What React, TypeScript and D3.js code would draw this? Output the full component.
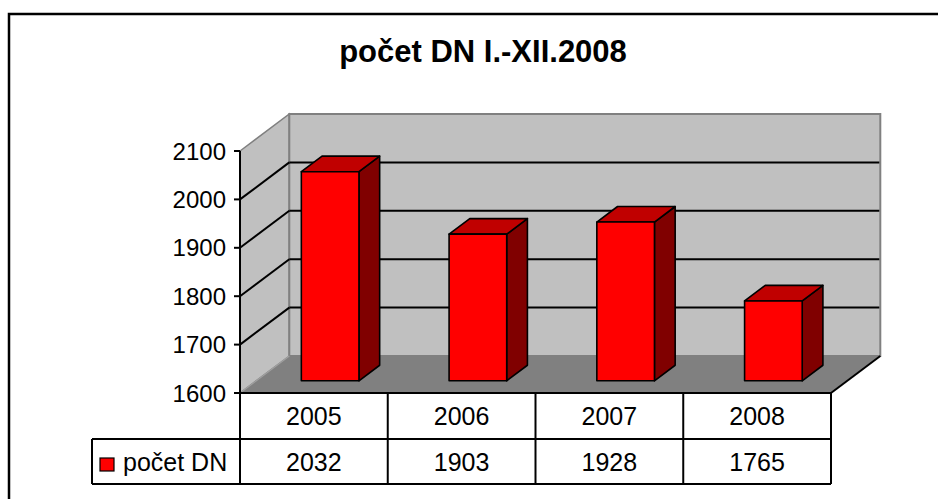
import React from "react";
import * as d3 from "d3";

const categories = ["2005", "2006", "2007", "2008"];
const values = [2032, 1903, 1928, 1765];
const yTicks = [1600, 1700, 1800, 1900, 2000, 2100];
const seriesName = "počet DN";
const title = "počet DN I.-XII.2008";

const W = 938;
const H = 499;
const FONT = "'Liberation Sans', Arial, sans-serif";

export default function App() {
  const x0 = 240, x1 = 831;
  const yFront = d3.scaleLinear().domain([1600, 2100]).range([393, 151]);
  const band = d3.scaleBand<string>().domain(categories).range([x0, x1]).paddingInner(0).paddingOuter(0);
  const DX = 49.3, DY = -37;
  const P = (x: number, y: number, z: number) => [x + DX * z, y + DY * z];
  const pt = (p: number[]) => `${p[0]},${p[1]}`;
  const poly = (ps: number[][]) => ps.map(pt).join(" ");

  const floorY = yFront(1600);
  const topY = yFront(2100);

  const leftWall = poly([P(x0, floorY, 0), P(x0, topY, 0), P(x0, topY, 1), P(x0, floorY, 1)]);
  const backWall = poly([P(x0, floorY, 1), P(x0, topY, 1), P(x1, topY, 1), P(x1, floorY, 1)]);
  const floor = poly([P(x0, floorY, 0), P(x1, floorY, 0), P(x1, floorY, 1), P(x0, floorY, 1)]);

  const zF = 0.33, zB = 0.75;
  const bw = band.bandwidth() * 0.39;

  const rowTop = 393, rowMid = 439, rowBot = 484, legLeft = 92;

  return (
    <svg width={W} height={H} style={{ position: "absolute", left: 0, top: 0, background: "#fff" }}>
      <rect x={9} y={14} width={W + 20} height={H + 20} fill="#fff" stroke="#000" strokeWidth={2.5} />
      <text x={483} y={62} textAnchor="middle" fontFamily={FONT} fontWeight="bold" fontSize={31}>{title}</text>

      {/* walls */}
      <polygon points={leftWall} fill="#C0C0C0" stroke="#808080" strokeWidth={1.5} />
      <polygon points={backWall} fill="#C0C0C0" stroke="#808080" strokeWidth={2} />
      <polygon points={floor} fill="#808080" stroke="none" />
      <line x1={P(x0, floorY, 0)[0]} y1={floorY} x2={P(x0, floorY, 1)[0]} y2={P(x0, floorY, 1)[1]} stroke="#A0A0A0" strokeWidth={1.2} />
      <line x1={x1} y1={floorY} x2={P(x1, floorY, 1)[0]} y2={P(x1, floorY, 1)[1]} stroke="#000" strokeWidth={2} />

      {/* gridlines */}
      {yTicks.filter(v => v > 1600 && v < 2100).map(v => {
        const a = P(x0, yFront(v), 0), b = P(x0, yFront(v), 1), c = P(x1, yFront(v), 1);
        return (
          <g key={v}>
            <line x1={a[0]} y1={a[1]} x2={b[0]} y2={b[1]} stroke="#000" strokeWidth={2} />
            <line x1={b[0]} y1={b[1]} x2={c[0] - 1} y2={c[1]} stroke="#000" strokeWidth={2} />
          </g>
        );
      })}

      {/* bars */}
      {categories.map((c, i) => {
        const cx = (band(c) as number) + band.bandwidth() / 2;
        const l = cx - bw / 2, r = cx + bw / 2;
        const yt = yFront(values[i]);
        const front = poly([P(l, floorY, zF), P(l, yt, zF), P(r, yt, zF), P(r, floorY, zF)]);
        const top = poly([P(l, yt, zF), P(l, yt, zB), P(r, yt, zB), P(r, yt, zF)]);
        const side = poly([P(r, floorY, zF), P(r, yt, zF), P(r, yt, zB), P(r, floorY, zB)]);
        return (
          <g key={c} stroke="#000" strokeWidth={1.6} strokeLinejoin="round">
            <polygon points={side} fill="#800000" />
            <polygon points={top} fill="#C00000" />
            <polygon points={front} fill="#FF0000" />
          </g>
        );
      })}

      {/* axis */}
      <line x1={x0} y1={topY} x2={x0} y2={floorY} stroke="#000" strokeWidth={2} />
      {yTicks.map(v => (
        <g key={v}>
          <line x1={x0 - 6} y1={yFront(v)} x2={x0} y2={yFront(v)} stroke="#000" strokeWidth={2} />
          <text x={226} y={yFront(v)} dy="0.36em" textAnchor="end" fontFamily={FONT} fontSize={24}>{v}</text>
        </g>
      ))}

      {/* data table */}
      <g stroke="#000" strokeWidth={2} fill="none">
        <line x1={x0} y1={rowTop} x2={x1} y2={rowTop} />
        <line x1={legLeft} y1={rowMid} x2={x1} y2={rowMid} />
        <line x1={legLeft} y1={rowBot} x2={x1} y2={rowBot} />
        <line x1={legLeft} y1={rowMid} x2={legLeft} y2={rowBot} />
        {categories.map(c => (
          <line key={c} x1={band(c) as number} y1={rowTop} x2={band(c) as number} y2={rowBot} />
        ))}
        <line x1={x1} y1={rowTop} x2={x1} y2={rowBot} />
      </g>
      {categories.map((c, i) => {
        const cx = (band(c) as number) + band.bandwidth() / 2;
        return (
          <g key={c} fontFamily={FONT} fontSize={25} textAnchor="middle">
            <text x={cx} y={(rowTop + rowMid) / 2} dy="0.36em">{c}</text>
            <text x={cx} y={(rowMid + rowBot) / 2} dy="0.36em">{values[i]}</text>
          </g>
        );
      })}
      <rect x={100} y={458} width={14} height={13} fill="#FF0000" stroke="#000" strokeWidth={1.2} />
      <text x={123} y={(rowMid + rowBot) / 2} dy="0.36em" fontFamily={FONT} fontSize={25}>{seriesName}</text>
    </svg>
  );
}
